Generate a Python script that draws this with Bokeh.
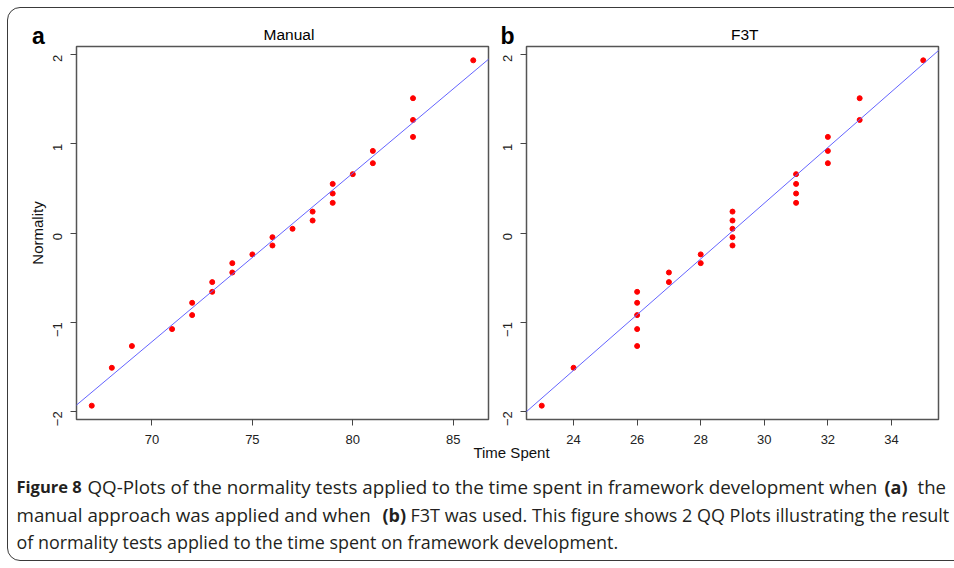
import math
from bokeh.plotting import figure
from bokeh.models import FixedTicker, Label, Slope, Range1d
from bokeh.layouts import column, row
from bokeh.embed import file_html
from bokeh.resources import INLINE

# ---------------- data ----------------
manual_time = [67, 68, 69, 71, 72, 72, 73, 73, 74, 74, 75, 76, 76,
               77, 78, 78, 79, 79, 79, 80, 81, 81, 83, 83, 83, 86]
f3t_time = [23, 24, 26, 26, 26, 26, 26, 27, 27, 28, 28, 29, 29,
            29, 29, 29, 31, 31, 31, 31, 32, 32, 32, 33, 33, 35]
normality = [-1.937, -1.512, -1.268, -1.078, -0.921, -0.783, -0.660, -0.551,
             -0.443, -0.338, -0.240, -0.140, -0.047, 0.047, 0.140, 0.240,
             0.338, 0.443, 0.551, 0.660, 0.783, 0.921, 1.078, 1.268, 1.512, 1.937]
# reference line: normality = (time - center) / scale
manual_line_center, manual_line_scale = 76.45, 5.29
f3t_line_center, f3t_line_scale = 28.93, 3.20
manual_xticks = [70, 75, 80, 85]
f3t_xticks = [24, 26, 28, 30, 32, 34]
y_ticks = [-2, -1, 0, 1, 2]

panel_titles = ["Manual", "F3T"]
panel_letters = ["a", "b"]
x_axis_title = "Time Spent"
y_axis_title = "Normality"

FONT = "Liberation Sans"
AXC = "#444444"
LBL_SHIFT = 7  # labels render this many px lower than their nominal baseline


def r_range(vals):
    lo, hi = min(vals), max(vals)
    pad = 0.04 * (hi - lo)
    return Range1d(lo - pad, hi + pad)


def plain(fig):
    fig.axis.visible = False
    fig.grid.visible = False
    fig.outline_line_color = None
    fig.background_fill_color = None
    fig.border_fill_color = None


def make_panel(xdata, center, scale, xticks, left_b, right_b, ylabel):
    p = figure(frame_width=412, frame_height=373,
               min_border_left=left_b, min_border_right=right_b,
               min_border_top=2, min_border_bottom=36,
               x_range=r_range(xdata), y_range=r_range(normality),
               output_backend="svg", toolbar_location=None, tools="")
    p.grid.visible = False
    p.background_fill_color = "white"
    p.border_fill_color = None
    p.outline_line_color = "#555555"
    p.outline_line_width = 1.5
    p.outline_line_alpha = 1.0

    for ax in (p.xaxis[0], p.yaxis[0]):
        ax.axis_line_color = None
        ax.major_tick_out = 6
        ax.major_tick_in = 0
        ax.minor_tick_out = 0
        ax.minor_tick_in = 0
        ax.major_tick_line_color = AXC
        ax.major_tick_line_width = 1
        ax.major_label_text_font = FONT
        ax.major_label_text_font_size = "13px"
        ax.major_label_text_color = "#222222"
        ax.axis_label_text_font = FONT
        ax.axis_label_text_font_size = "15px"
        ax.axis_label_text_font_style = "normal"
        ax.axis_label_text_color = "#111111"

    p.xaxis.ticker = FixedTicker(ticks=xticks)
    p.xaxis.major_label_standoff = 9
    p.yaxis.ticker = FixedTicker(ticks=y_ticks)
    p.yaxis.major_label_orientation = math.pi / 2
    p.yaxis.major_label_standoff = 13
    if ylabel:
        p.yaxis.axis_label = ylabel
        p.yaxis.axis_label_standoff = 0

    p.add_layout(Slope(gradient=1.0 / scale, y_intercept=-center / scale,
                       line_color="#6464ff", line_width=1))
    p.scatter(xdata, normality, size=5, color="#ff0000", line_color="#ff0000")
    return p


pa = make_panel(manual_time, manual_line_center, manual_line_scale, manual_xticks,
                68, 7, y_axis_title)
pb = make_panel(f3t_time, f3t_line_center, f3t_line_scale, f3t_xticks,
                31, 16, None)

# ---------------- strip with panel letters and titles ----------------
top = figure(width=946, height=48, min_border=0, x_range=Range1d(0, 1),
             y_range=Range1d(0, 1), output_backend="svg",
             toolbar_location=None, tools="")
plain(top)
for txt, x, y, size, style in [(panel_letters[0], 23.5, 14, "23px", "bold"),
                               (panel_titles[0], 255, 15, "15.5px", "normal"),
                               (panel_letters[1], 492, 14, "23px", "bold"),
                               (panel_titles[1], 722.5, 15, "15.5px", "normal")]:
    top.add_layout(Label(x=x, y=y + LBL_SHIFT, x_units="screen", y_units="screen",
                         text=txt, text_font=FONT, text_font_size=size,
                         text_font_style=style, text_color="#000000",
                         text_align="left", text_baseline="alphabetic"))

# ---------------- caption strip ----------------
cap = figure(width=946, height=117, min_border=0, x_range=Range1d(0, 1),
             y_range=Range1d(0, 1), output_backend="svg",
             toolbar_location=None, tools="", styles={"margin-top": "-12px"})
plain(cap)

cap.add_layout(Label(x=503, y=101.5 + LBL_SHIFT, x_units="screen", y_units="screen",
                     text=x_axis_title, text_font=FONT, text_font_size="15px",
                     text_color="#111111", text_align="center",
                     text_baseline="alphabetic"))

CFONT = "Open Sans"
CCOL = "#231f20"
caption_spans = [
    # (text, bold, x, y, size)
    ("Figure 8", True, 8, 68, "16.5px"),
    ("QQ-Plots of the normality tests applied to the time spent in framework development when", False, 79, 68, "18.8px"),
    ("(a)", True, 876, 68, "18px"),
    ("the", False, 909, 68, "18.6px"),
    ("manual approach was applied and when", False, 8, 40, "18.8px"),
    ("(b)", True, 374, 40, "18px"),
    ("F3T was used. This figure shows 2 QQ Plots illustrating the result", False, 402, 40, "18px"),
    ("of normality tests applied to the time spent on framework development.", False, 8, 13, "17.9px"),
]
for txt, bold, x, y, size in caption_spans:
    cap.add_layout(Label(x=x, y=y + LBL_SHIFT - 1, x_units="screen", y_units="screen",
                         text=txt, text_font=CFONT, text_font_size=size,
                         text_font_style="bold" if bold else "normal",
                         text_color=CCOL, text_align="left",
                         text_baseline="alphabetic"))

layout = column(top, row(pa, pb, styles={"margin-top": "-12px"}), cap,
                styles={"margin-left": "8px", "margin-top": "8px",
                        "outline": "1px solid #3a3a3a", "outline-offset": "0px",
                        "border-radius": "12px 0 0 12px"})

open("out.html", "w").write(file_html(layout, INLINE))
